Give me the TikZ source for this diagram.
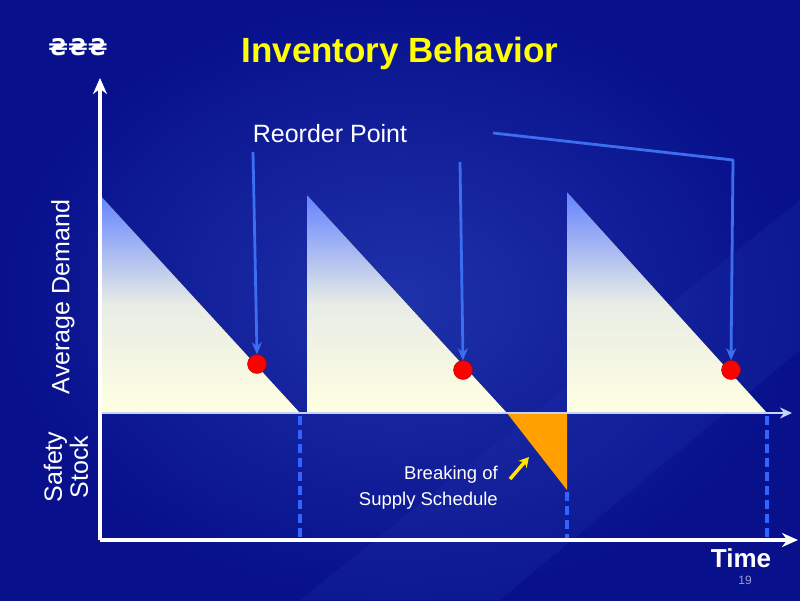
\documentclass[tikz,border=0pt]{standalone}
\usepackage{fontspec}
\setmainfont{Liberation Sans}
\newfontfamily\dv{DejaVu Sans}
\usetikzlibrary{arrows.meta}
\definecolor{bg}{RGB}{8,16,140}
\definecolor{bgl}{RGB}{30,50,170}
\definecolor{arr}{RGB}{60,110,240}
\definecolor{dsh}{RGB}{50,100,255}
\definecolor{tri}{RGB}{100,130,255}
\definecolor{cream}{RGB}{255,255,225}
\definecolor{org}{RGB}{255,160,0}
\definecolor{ttl}{RGB}{255,255,0}
\begin{document}
\begin{tikzpicture}[x=1pt,y=-1pt,
  lbl/.style={text=white,font=\fontsize{25}{28}\selectfont,inner sep=0},
  tribox/.style={top color=tri,bottom color=cream,middle color=cream!85!tri,shading angle=0},
  dline/.style={dsh,line width=3.5pt,dash pattern=on 9pt off 5pt},
  rdot/.style={circle,fill=red,draw=red!70!black,inner sep=0,minimum size=19pt},
  pointer/.style={arr,line width=2.8pt,-{Stealth[length=12pt,width=10pt]}}]
\useasboundingbox (0,0) rectangle (800,600);
\shade[inner color=bgl,outer color=bg] (0,0) rectangle (800,600);
\fill[bgl,opacity=0.25] (300,600) -- (800,200) -- (800,350) -- (500,600) -- cycle;
% triangles
\fill[tribox] (100,195) -- (100,413) -- (300,413) -- cycle;
\fill[tribox] (307,195) -- (307,413) -- (507,413) -- cycle;
\fill[tribox] (567,192) -- (567,413) -- (767,413) -- cycle;
\fill[org] (507,413) -- (567,413) -- (567,490) -- cycle;
% dashed
\draw[dline] (300,416) -- (300,540);
\draw[dline] (567,492) -- (567,540);
\draw[dline] (767,416) -- (767,540);
% baseline
\coordinate (b0) at (100,413); \coordinate (b1) at (792,413);
\draw[white!70!arr,line width=2pt,-{Stealth[length=12pt,width=11pt]}] (b0) -- (b1);
% axes
\coordinate (o) at (100,540); \coordinate (yt) at (100,78); \coordinate (xt) at (798,540);
\draw[white,line width=3.5pt,-{Stealth[length=16pt,width=14pt]}] (o) -- (yt);
\draw[white,line width=3.5pt,-{Stealth[length=16pt,width=14pt]}] (o) -- (xt);
% dots
\node[rdot] (d1) at (257,364) {};
\node[rdot] (d2) at (463,370) {};
\node[rdot] (d3) at (731,370) {};
\coordinate (s1) at (253,152); \coordinate (s2) at (460,162);
\coordinate (s3) at (493,133); \coordinate (k3) at (733,160);
\draw[pointer] (s1) -- (d1.north);
\draw[pointer] (s2) -- (d2.north);
\draw[pointer,line join=round] (s3) -- (k3) -- (d3.north);
% texts
\node[text=ttl,font=\bfseries\fontsize{35}{38}\selectfont] (title) at (400,53) {Inventory Behavior};
\node[text=white,font=\dv\bfseries\fontsize{23}{25}\selectfont] (cur) at (78,47) {₴₴₴};
\node[lbl] (rp) at (330,134) {Reorder Point};
\node[lbl,rotate=90] (ad) at (63,297) {Average Demand};
\node[lbl,rotate=90,align=center,font=\fontsize{25}{26}\selectfont] (ss) at (66,467) {Safety\\Stock};
\node[text=white,font=\bfseries\fontsize{26}{28}\selectfont,inner sep=0] (time) at (741,558) {Time};
\node[text=white!60!bg,font=\fontsize{12}{14}\selectfont,inner sep=0] (pg) at (745,580) {19};
\node[text=white,align=right,font=\fontsize{18.5}{26}\selectfont,anchor=east,inner sep=0] (brk) at (498,488) {Breaking of\\Supply Schedule};
\coordinate (ya) at (510,479); \coordinate (yb) at (529,457);
\draw[ttl!80!orange,line width=3.5pt,-{Stealth[length=10pt,width=11pt]}] (ya) -- (yb);
\end{tikzpicture}
\end{document}
